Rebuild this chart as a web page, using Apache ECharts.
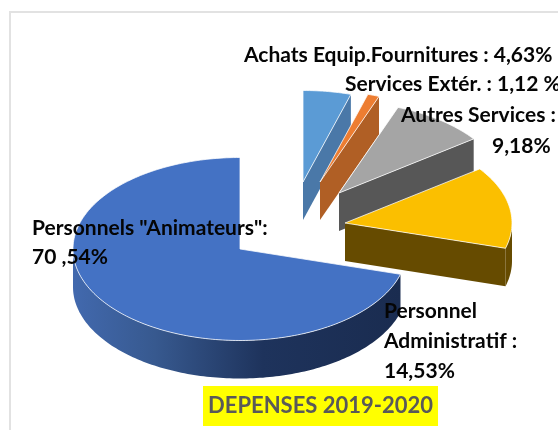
<!DOCTYPE html>
<html><head><meta charset="utf-8">
<style>html,body{margin:0;padding:0;background:#fff}#c{width:558px;height:430px}</style>
<script src="https://cdn.jsdelivr.net/npm/echarts@6/dist/echarts.min.js"></script>
</head><body><div id="c"></div>
<script>
// Data (clockwise from 12 o'clock)
const categories = ['Achats Equip.Fournitures', 'Services Extér.', 'Autres Services', 'Personnel Administratif', 'Personnels "Animateurs"'];
const values = [4.63, 1.12, 9.18, 14.53, 70.54];
const labelLines = [
  ['Achats Equip.Fournitures : 4,63%'],
  ['Services Extér. : 1,12 %'],
  ['Autres Services :', '9,18%'],
  ['Personnel', 'Administratif :', '14,53%'],
  ['Personnels "Animateurs":', '70 ,54%']
];
const chartTitle = 'DEPENSES 2019-2020';

// Style and layout
const topColors = ['#5B9BD5', '#ED7D31', '#A5A5A5', '#FBBF00', '#4472C4'];
const sideColors = ['#4A78A8', '#B05F25', '#575757', '#664B00', '#1A2C50'];
const apexes = [[303,182],[320,182],[339,193],[345,223],[240,249]];
const RX = 167, RY = 91.5, DEPTH = 38;
const labelPos = [
  [[244,55]],
  [[345,84]],
  [[401,115],[492,146]],
  [[384,311],[384,341],[384,371]],
  [[32,228],[32,257]]
];

const total = values.reduce((a,b)=>a+b,0);
const starts = []; values.reduce((acc,v,i)=>{starts[i]=acc;return acc+v;},0);
const toAngle = v => v/total*2*Math.PI;
const pt = (c,a,dy=0) => [c[0]+RX*Math.sin(a), c[1]-RY*Math.cos(a)+dy];
function arcPts(c,a0,a1,dy=0){
  const n=Math.max(2,Math.ceil((a1-a0)/0.02)), out=[];
  for(let i=0;i<=n;i++) out.push(pt(c,a0+(a1-a0)*i/n,dy));
  return out;
}
function renderSlice(params, api){
  const i=params.dataIndex, v=api.value(0);
  const a0=toAngle(starts[i]), a1=a0+toAngle(v), c=apexes[i];
  const children=[];
  const side = i===4
    ? {type:'linear',x:0,y:0,x2:1,y2:0,colorStops:[{offset:0,color:'#4269AE'},{offset:0.25,color:'#37598F'},{offset:0.58,color:'#1E335C'},{offset:1,color:sideColors[4]}]}
    : sideColors[i];
  // radial walls
  if(Math.sin(a1)>0.01){
    const e=pt(c,a1);
    children.push({type:'polygon',shape:{points:[c,e,[e[0],e[1]+DEPTH],[c[0],c[1]+DEPTH]]},style:{fill:sideColors[i]}});
  }
  // outer wall: part of the arc facing the viewer
  const f0=Math.max(a0,Math.PI/2), f1=Math.min(a1,1.5*Math.PI);
  if(f1>f0){
    const up=arcPts(c,f0,f1), down=arcPts(c,f0,f1,DEPTH).reverse();
    children.push({type:'polygon',shape:{points:up.concat(down)},style:{fill:side}});
  }
  // top face
  const face=[c].concat(arcPts(c,a0,a1));
  children.push({type:'polygon',shape:{points:face},style:{fill:topColors[i],stroke:'rgba(255,255,255,0.75)',lineWidth:1,lineJoin:'round'}});
  return {type:'group',children};
}

const labelEls=[];
labelLines.forEach((lines,i)=>lines.forEach((t,j)=>{
  labelEls.push({type:'text',z:100,x:labelPos[i][j][0],y:labelPos[i][j][1],
    style:{text:t,fill:'#050505',font:'bold 21px Lato, "Open Sans", sans-serif',textVerticalAlign:'middle',textBaseline:'middle'}});
}));

const chart=echarts.init(document.getElementById('c'),null,{renderer:'canvas'});
chart.setOption({
  animation:false,
  backgroundColor:'#fff',
  title:{text:chartTitle,left:203,top:386,backgroundColor:'#FFFF00',padding:[8,5,8,5],
    textStyle:{color:'#595959',fontFamily:'Lato, "Open Sans", sans-serif',fontWeight:'bold',fontSize:22,lineHeight:24}},
  graphic:[
    {type:'line',z:0,shape:{x1:10,y1:11,x2:10,y2:430},style:{stroke:'#E2E2E2',lineWidth:2}},
    {type:'line',z:0,shape:{x1:9,y1:12,x2:558,y2:12},style:{stroke:'#E2E2E2',lineWidth:2}}
  ].concat(labelEls),
  series:[{type:'custom',coordinateSystem:'none',renderItem:renderSlice,clip:false,silent:true,
    data:values.map((v,i)=>({name:categories[i],value:[v]}))}]
});
</script></body></html>
